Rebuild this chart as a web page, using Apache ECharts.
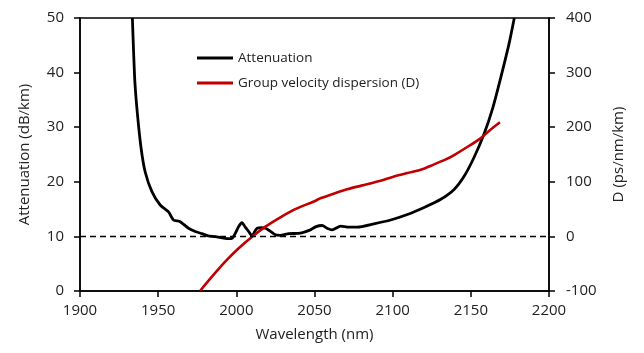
<!DOCTYPE html>
<html>
<head>
<meta charset="utf-8">
<script src="https://cdn.jsdelivr.net/npm/echarts@6/dist/echarts.min.js"></script>
<style>
html,body{margin:0;padding:0;background:#fff;}
#chart{width:644px;height:353px;}
</style>
</head>
<body>
<div id="chart"></div>
<script>
// Wavelength axis ticks
const xTicks = [1900, 1950, 2000, 2050, 2100, 2150, 2200];
const attTicks = [0, 10, 20, 30, 40, 50];
const dTicks = [-100, 0, 100, 200, 300, 400];

// Attenuation (dB/km) vs wavelength (nm)
const attWl = [1933.5, 1934.2, 1935.1, 1936.8, 1939.1, 1941.7, 1946, 1951.3, 1956.6, 1959.8, 1964.1, 1969.4, 1973.7, 1978, 1982, 1986.5, 1991.9, 1995, 1997.5, 1999.4, 2001.5, 2003.6, 2005.5, 2007.9, 2010, 2011.8, 2013.3, 2016, 2018.6, 2022, 2025, 2028, 2033.5, 2041, 2047.4, 2051, 2054.9, 2058, 2061.3, 2066.7, 2072, 2077.4, 2088, 2098.7, 2109.4, 2120.1, 2130.8, 2139.3, 2145.7, 2152.1, 2158.5, 2164, 2169.5, 2174.6, 2177.8];
const att = [50, 44.4, 38.3, 32.2, 26.1, 21.8, 18.2, 15.75, 14.5, 13.0, 12.7, 11.5, 10.9, 10.5, 10.1, 9.95, 9.7, 9.6, 9.7, 10.6, 11.8, 12.5, 11.8, 10.9, 10.1, 10.9, 11.5, 11.6, 11.5, 10.9, 10.3, 10.2, 10.5, 10.6, 11.2, 11.8, 12.0, 11.5, 11.2, 11.9, 11.7, 11.7, 12.3, 13.0, 14.0, 15.3, 16.8, 18.6, 21.0, 24.5, 28.8, 33.5, 39.5, 45.5, 50];

// Group velocity dispersion D (ps/nm/km) vs wavelength (nm)
const dWl = [1976.9, 1984.4, 1992.9, 2001.5, 2010.1, 2018.6, 2027.1, 2036.7, 2041, 2049.6, 2053.8, 2060, 2070.9, 2080, 2092.3, 2100, 2109.4, 2117.9, 2126.5, 2134, 2139.3, 2149, 2156.4, 2162, 2168.6];
const dVal = [-99.5, -73.8, -46.3, -21.8, -0.6, 17.8, 33.1, 48.4, 54, 64, 69.8, 76, 86.2, 93, 102, 109, 116, 122, 132, 141, 149, 166, 180, 194, 209];

const attData = attWl.map((w, i) => [w, att[i]]);
const dData = dWl.map((w, i) => [w, dVal[i]]);

const FONT = 'Open Sans';
const chart = echarts.init(document.getElementById('chart'), null, {renderer: 'canvas'});
chart.setOption({
  animation: false,
  backgroundColor: '#fff',
  textStyle: {fontFamily: FONT, color: '#222'},
  grid: {left: 80, right: 95, top: 18, bottom: 62, show: true, borderColor: '#000', borderWidth: 1.5},
  legend: {
    orient: 'vertical', left: 192, top: 46, itemWidth: 36, itemHeight: 3, itemGap: 11,
    icon: 'rect',
    textStyle: {fontFamily: FONT, fontSize: 13.5, color: '#222'},
    data: ['Attenuation', 'Group velocity dispersion (D)']
  },
  xAxis: {
    type: 'value', min: xTicks[0], max: xTicks[xTicks.length - 1], interval: 50,
    name: 'Wavelength (nm)', nameLocation: 'middle', nameGap: 36,
    nameTextStyle: {fontFamily: FONT, fontSize: 15, color: '#222'},
    axisLine: {show: true, lineStyle: {color: '#000', width: 1.5}},
    axisTick: {show: true, inside: false, length: 6, lineStyle: {color: '#000', width: 1.5}},
    axisLabel: {fontFamily: FONT, fontSize: 15, color: '#222', margin: 12, formatter: v => String(v)},
    splitLine: {show: false}
  },
  yAxis: [{
    type: 'value', min: attTicks[0], max: attTicks[attTicks.length - 1], interval: 10, position: 'left',
    name: 'Attenuation (dB/km)', nameLocation: 'middle', nameGap: 48, nameRotate: 90,
    nameTextStyle: {fontFamily: FONT, fontSize: 15, color: '#222'},
    axisLine: {show: true, lineStyle: {color: '#000', width: 1.5}},
    axisTick: {show: true, length: 6, lineStyle: {color: '#000', width: 1.5}},
    axisLabel: {fontFamily: FONT, fontSize: 15, color: '#222', margin: 16},
    splitLine: {show: false}
  }, {
    type: 'value', min: dTicks[0], max: dTicks[dTicks.length - 1], interval: 100, position: 'right',
    name: 'D (ps/nm/km)', nameLocation: 'middle', nameGap: 62, nameRotate: 90,
    nameTextStyle: {fontFamily: FONT, fontSize: 15, color: '#222'},
    axisLine: {show: true, lineStyle: {color: '#000', width: 1.5}},
    axisTick: {show: true, length: 6, lineStyle: {color: '#000', width: 1.5}},
    axisLabel: {fontFamily: FONT, fontSize: 15, color: '#222', margin: 17},
    splitLine: {show: false}
  }],
  series: [{
    name: 'Attenuation', type: 'line', yAxisIndex: 0, data: attData,
    showSymbol: false, symbol: 'none', smooth: 0.2, clip: true,
    lineStyle: {color: '#000', width: 2.8}, itemStyle: {color: '#000'},
    markLine: {
      silent: true, symbol: 'none', label: {show: false},
      lineStyle: {color: '#000', type: [6, 4], width: 1.3},
      data: [{yAxis: 10}]
    }
  }, {
    name: 'Group velocity dispersion (D)', type: 'line', yAxisIndex: 1, data: dData,
    showSymbol: false, symbol: 'none', smooth: 0.3, clip: true,
    lineStyle: {color: '#c00000', width: 2.6}, itemStyle: {color: '#c00000'}
  }]
});
</script>
</body>
</html>
